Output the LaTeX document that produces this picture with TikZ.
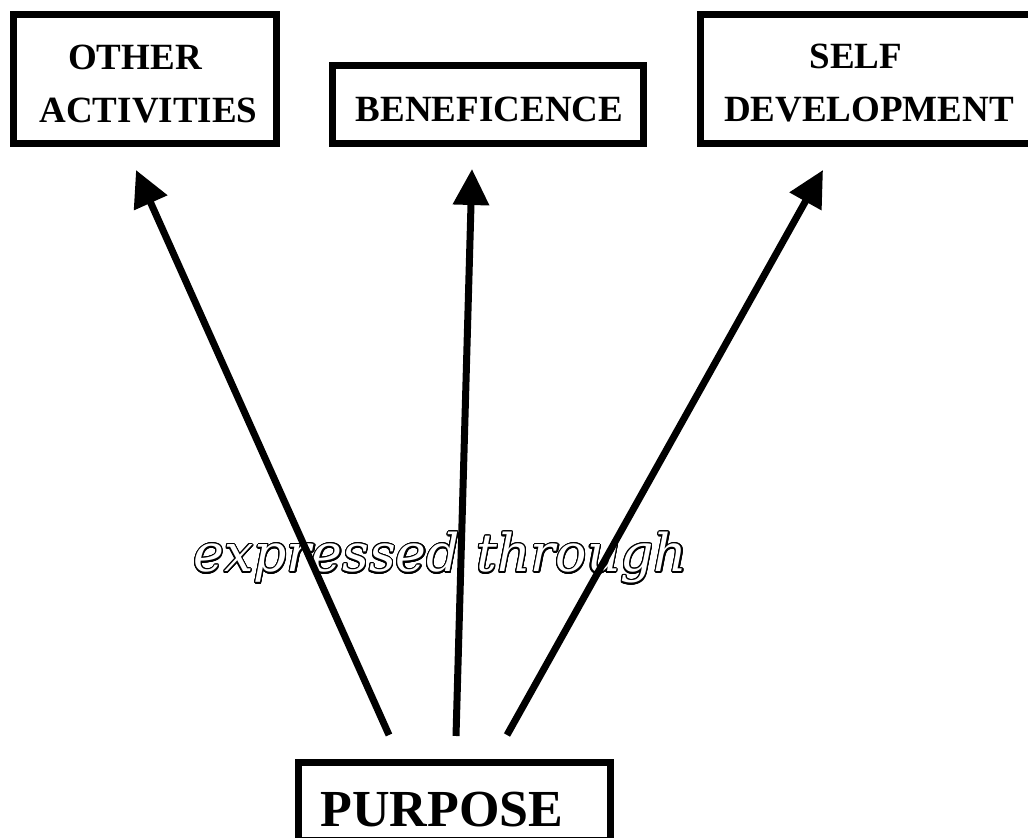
\documentclass[tikz,border=0pt]{standalone}
\usepackage{fontspec}
\setmainfont{Liberation Serif}
\newfontfamily\exprfont{DejaVu Serif}
\usepackage{contour}
\contourlength{0.6pt}
\contournumber{24}
\usetikzlibrary{arrows.meta}

\tikzset{
  frame/.style={draw=black, line width=3.5pt, inner sep=0pt},
  boxlabel/.style={inner sep=0pt, align=center,
    font=\fontsize{18.5pt}{26.5pt}\selectfont\bfseries},
  biglabel/.style={inner sep=0pt,
    font=\fontsize{26pt}{30pt}\selectfont\bfseries},
  outlinetext/.style={inner sep=0pt, text=white,
    font=\exprfont\itshape\fontsize{26pt}{30pt}\selectfont},
  flow/.style={line width=3.5pt, -{Triangle[length=18pt, width=17.5pt]}}
}

\begin{document}
\begin{tikzpicture}[x=0.5pt, y=-0.5pt]
  \useasboundingbox (0,0) rectangle (1028,838);

  % frames
  \node[frame, minimum width=131.5pt, minimum height=64.5pt] (other) at (145,79) {};
  \node[frame, minimum width=155.5pt, minimum height=39pt]   (benef) at (488,104.5) {};
  \node[frame, minimum width=168.5pt, minimum height=64.5pt] (self)  at (869,79) {};
  \node[frame, minimum width=156pt,   minimum height=39pt]   (purpose) at (454.5,801.5) {};

  % frame captions (first lines carry a trailing gap)
  \node[boxlabel] (othertxt) at (148.5,84) {OTHER\hspace*{13.5pt}\\ACTIVITIES};
  \node[boxlabel, anchor=base] (beneftxt) at (489.5,122) {BENEFICENCE};
  \node[boxlabel] (selftxt) at (869,83) {SELF\hspace*{13pt}\\DEVELOPMENT};
  \node[biglabel, anchor=base] (purposetxt) at (442,827) {PURPOSE};

  % outlined caption on the arrows
  \node[outlinetext, anchor=base] (expr) at (440.5,572) {\contour{black}{expressed through}};

  % arrow ends
  \coordinate (t1) at (389,735);
  \coordinate (t2) at (456,736);
  \coordinate (t3) at (507,735);
  \coordinate (h1) at (136,170);
  \coordinate (h2) at (472,169);
  \coordinate (h3) at (823,170);

  \draw[flow] (t1) -- (h1);
  \draw[flow] (t2) -- (h2);
  \draw[flow] (t3) -- (h3);
\end{tikzpicture}
\end{document}
